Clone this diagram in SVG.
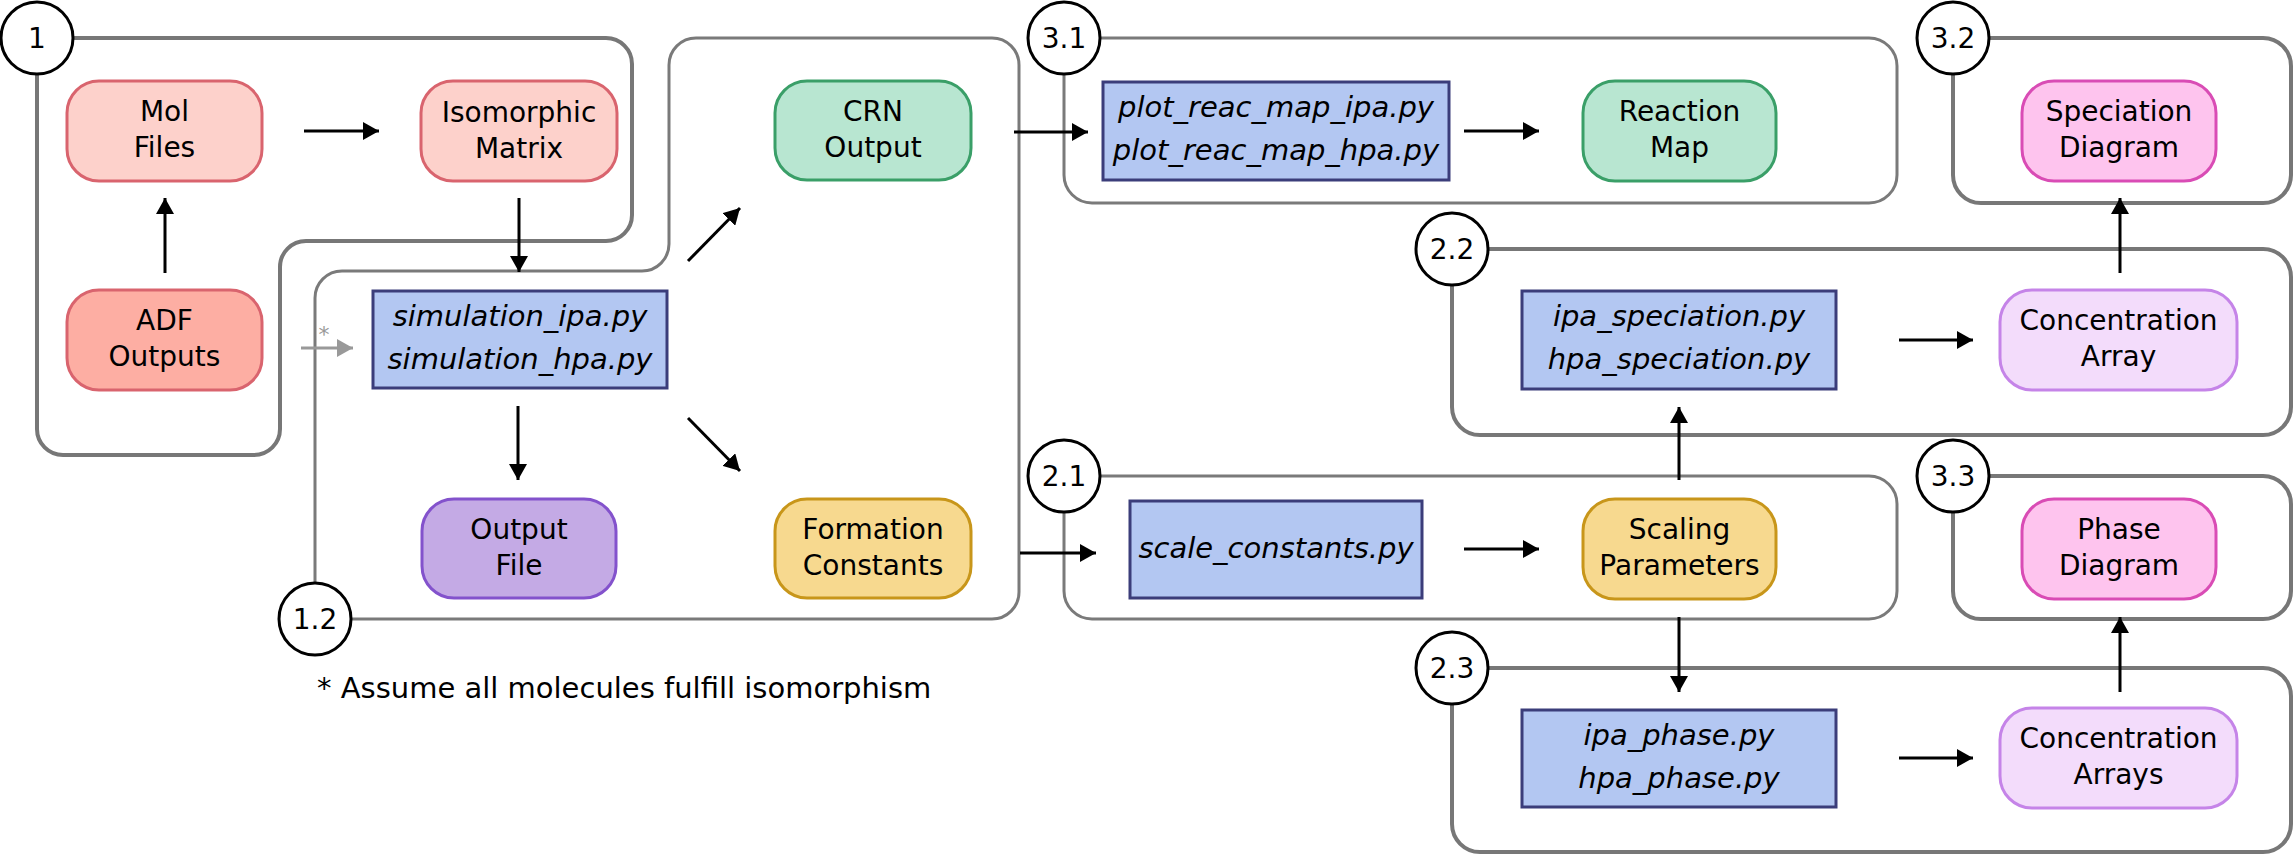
<svg xmlns="http://www.w3.org/2000/svg" width="2294" height="855" viewBox="0 0 2294 855">
<defs>
<style>
text{font-family:"DejaVu Sans","Noto Sans",sans-serif;font-size:28px;fill:#000;text-anchor:middle}
.grp{fill:none;stroke:#7a7a7a;stroke-width:3}
.grp4{fill:none;stroke:#777;stroke-width:4}
.badge{fill:#fff;stroke:#000;stroke-width:3}
.node{stroke-width:3}
.red{fill:#fdd1cb;stroke:#d9646e}
.adf{fill:#fdaea3;stroke:#d9646e}
.code{fill:#b3c7f2;stroke:#3b3d7a}
.green{fill:#b8e6d1;stroke:#3a9f68}
.orange{fill:#f7d98f;stroke:#c8961a}
.purple{fill:#c4aae5;stroke:#8352cc}
.pink{fill:#fec4ee;stroke:#d94cb5}
.lilac{fill:#f3dcfb;stroke:#c584e8}
.it{font-style:italic;font-size:29px}
.arr{fill:none;stroke:#000;stroke-width:3;marker-end:url(#ah)}
.garr{fill:none;stroke:#999;stroke-width:3;marker-end:url(#gah)}
</style>
<marker id="ah" markerUnits="userSpaceOnUse" markerWidth="18" markerHeight="18" refX="16" refY="9" orient="auto"><path d="M0,0 L16,9 L0,18 Z" fill="#000"/></marker>
<marker id="gah" markerUnits="userSpaceOnUse" markerWidth="18" markerHeight="18" refX="16" refY="9" orient="auto"><path d="M0,0 L16,9 L0,18 Z" fill="#999"/></marker>
</defs>
<rect width="2294" height="855" fill="#fff"/>

<g id="group-1">
<path class="grp4" d="M37,38 H606 A26,26 0 0 1 632,64 V215 A26,26 0 0 1 606,241 H306 A26,26 0 0 0 280,267 V429 A26,26 0 0 1 254,455 H63 A26,26 0 0 1 37,429 Z"/>
<circle class="badge" cx="37" cy="38" r="36"/><text x="37" y="48">1</text>
</g>
<g id="group-1-2">
<path class="grp" d="M315,619 V298 A27,27 0 0 1 342,271 H642 A27,27 0 0 0 669,244 V65 A27,27 0 0 1 696,38 H992 A27,27 0 0 1 1019,65 V592 A27,27 0 0 1 992,619 Z"/>
<circle class="badge" cx="315" cy="619" r="36"/><text x="315" y="629">1.2</text>
</g>
<g id="group-3-1">
<path class="grp" d="M1064,38 H1869 A28,28 0 0 1 1897,66 V175 A28,28 0 0 1 1869,203 H1092 A28,28 0 0 1 1064,175 Z"/>
<circle class="badge" cx="1064" cy="38" r="36"/><text x="1064" y="48">3.1</text>
</g>
<g id="group-3-2">
<path class="grp4" d="M1953,38 H2263 A28,28 0 0 1 2291,66 V175 A28,28 0 0 1 2263,203 H1981 A28,28 0 0 1 1953,175 Z"/>
<circle class="badge" cx="1953" cy="38" r="36"/><text x="1953" y="48">3.2</text>
</g>
<g id="group-2-2">
<path class="grp4" d="M1452,249 H2263 A28,28 0 0 1 2291,277 V407 A28,28 0 0 1 2263,435 H1480 A28,28 0 0 1 1452,407 Z"/>
<circle class="badge" cx="1452" cy="249" r="36"/><text x="1452" y="259">2.2</text>
</g>
<g id="group-2-1">
<path class="grp" d="M1064,476 H1869 A28,28 0 0 1 1897,504 V591 A28,28 0 0 1 1869,619 H1092 A28,28 0 0 1 1064,591 Z"/>
<circle class="badge" cx="1064" cy="476" r="36"/><text x="1064" y="486">2.1</text>
</g>
<g id="group-3-3">
<path class="grp4" d="M1953,476 H2263 A28,28 0 0 1 2291,504 V591 A28,28 0 0 1 2263,619 H1981 A28,28 0 0 1 1953,591 Z"/>
<circle class="badge" cx="1953" cy="476" r="36"/><text x="1953" y="486">3.3</text>
</g>
<g id="group-2-3">
<path class="grp4" d="M1452,668 H2263 A28,28 0 0 1 2291,696 V824 A28,28 0 0 1 2263,852 H1480 A28,28 0 0 1 1452,824 Z"/>
<circle class="badge" cx="1452" cy="668" r="36"/><text x="1452" y="678">2.3</text>
</g>

<g id="mol-files"><rect class="node red" x="67" y="81" width="195" height="100" rx="32"/><text x="164.5" y="121">Mol</text><text x="164.5" y="157">Files</text></g>
<g id="isomorphic-matrix"><rect class="node red" x="421" y="81" width="196" height="100" rx="32"/><text x="519" y="122">Isomorphic</text><text x="519" y="158">Matrix</text></g>
<g id="adf-outputs"><rect class="node adf" x="67" y="290" width="195" height="100" rx="32"/><text x="164.5" y="330">ADF</text><text x="164.5" y="366">Outputs</text></g>
<g id="simulation"><rect class="node code" x="373" y="291" width="294" height="97"/><text class="it" x="520" y="326">simulation_ipa.py</text><text class="it" x="520" y="369">simulation_hpa.py</text></g>
<g id="output-file"><rect class="node purple" x="422" y="499" width="194" height="99" rx="32"/><text x="519" y="539">Output</text><text x="519" y="575">File</text></g>
<g id="crn-output"><rect class="node green" x="775" y="81" width="196" height="99" rx="32"/><text x="873" y="121">CRN</text><text x="873" y="157">Output</text></g>
<g id="formation-constants"><rect class="node orange" x="775" y="499" width="196" height="99" rx="32"/><text x="873" y="539">Formation</text><text x="873" y="575">Constants</text></g>
<g id="plot-reac-map"><rect class="node code" x="1103" y="82" width="346" height="98"/><text class="it" x="1276" y="117">plot_reac_map_ipa.py</text><text class="it" x="1276" y="160">plot_reac_map_hpa.py</text></g>
<g id="reaction-map"><rect class="node green" x="1583" y="81" width="193" height="100" rx="32"/><text x="1679.5" y="121">Reaction</text><text x="1679.5" y="157">Map</text></g>
<g id="speciation-diagram"><rect class="node pink" x="2022" y="81" width="194" height="100" rx="32"/><text x="2119" y="121">Speciation</text><text x="2119" y="157">Diagram</text></g>
<g id="speciation-scripts"><rect class="node code" x="1522" y="291" width="314" height="98"/><text class="it" x="1679" y="326">ipa_speciation.py</text><text class="it" x="1679" y="369">hpa_speciation.py</text></g>
<g id="concentration-array"><rect class="node lilac" x="2000" y="290" width="237" height="100" rx="32"/><text x="2118.5" y="330">Concentration</text><text x="2118.5" y="366">Array</text></g>
<g id="scale-constants"><rect class="node code" x="1130" y="501" width="292" height="97"/><text class="it" x="1276" y="558">scale_constants.py</text></g>
<g id="scaling-parameters"><rect class="node orange" x="1583" y="499" width="193" height="100" rx="32"/><text x="1679.5" y="539">Scaling</text><text x="1679.5" y="575">Parameters</text></g>
<g id="phase-diagram"><rect class="node pink" x="2022" y="499" width="194" height="100" rx="32"/><text x="2119" y="539">Phase</text><text x="2119" y="575">Diagram</text></g>
<g id="phase-scripts"><rect class="node code" x="1522" y="710" width="314" height="97"/><text class="it" x="1679" y="745">ipa_phase.py</text><text class="it" x="1679" y="788">hpa_phase.py</text></g>
<g id="concentration-arrays"><rect class="node lilac" x="2000" y="708" width="237" height="100" rx="32"/><text x="2118.5" y="748">Concentration</text><text x="2118.5" y="784">Arrays</text></g>

<g id="connectors">
<path class="arr" d="M304,131 H379"/>
<path class="arr" d="M165,273 V198"/>
<path class="arr" d="M519,198 V272"/>
<path class="garr" d="M301,348 H353"/>
<text x="324" y="342" style="fill:#999;font-size:22px">*</text>
<path class="arr" d="M518,406 V480"/>
<path class="arr" d="M688,261 L740,208"/>
<path class="arr" d="M688,418 L740,471"/>
<path class="arr" d="M1014,132 H1088"/>
<path class="arr" d="M1464,131 H1539"/>
<path class="arr" d="M1020,553 H1096"/>
<path class="arr" d="M1464,549 H1539"/>
<path class="arr" d="M1679,480 V407"/>
<path class="arr" d="M1679,617 V692"/>
<path class="arr" d="M1899,340 H1973"/>
<path class="arr" d="M2120,273 V198"/>
<path class="arr" d="M1899,758 H1973"/>
<path class="arr" d="M2120,692 V617"/>
</g>

<text x="317" y="698" style="text-anchor:start;font-size:29px">* Assume all molecules fulfill isomorphism</text>
</svg>
